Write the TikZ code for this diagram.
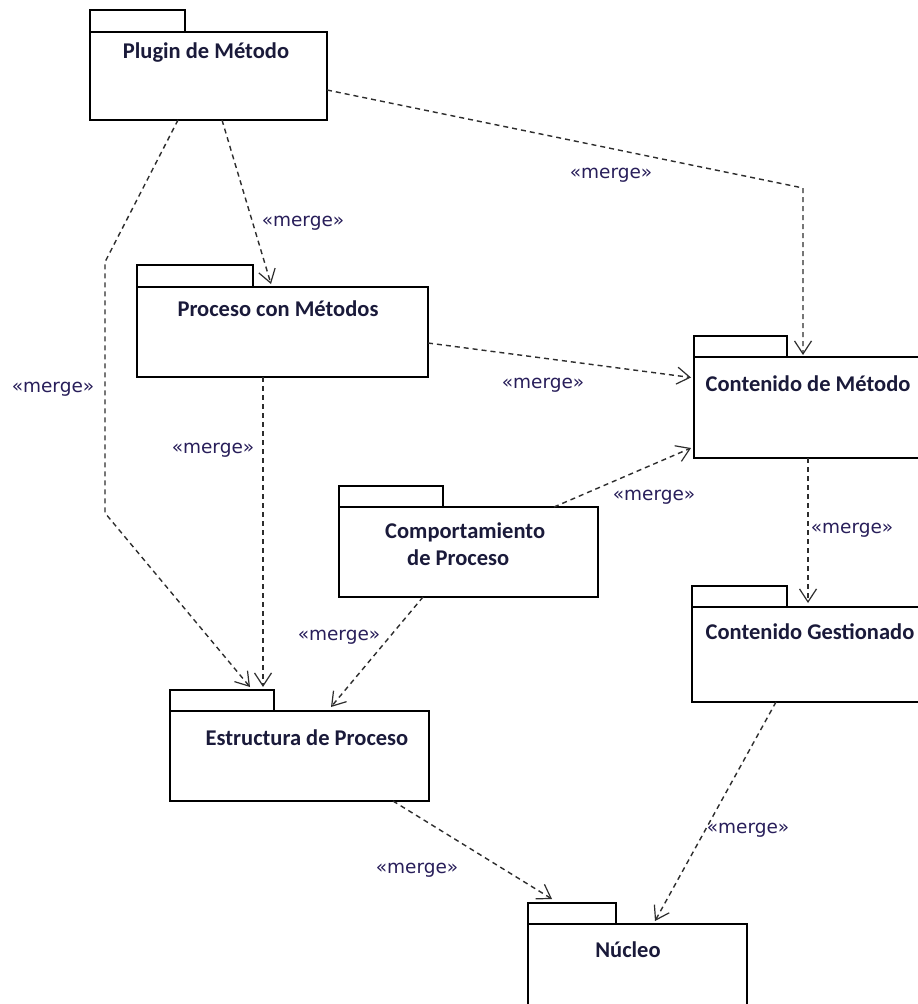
\documentclass[tikz,border=0pt]{standalone}
\usepackage{fontspec}
\usetikzlibrary{arrows.meta}
\newfontfamily\pkgfont{Carlito}
\newfontfamily\stereofont{DejaVu Sans}
\definecolor{pkgtext}{RGB}{26,26,58}
\definecolor{stereotext}{RGB}{40,30,90}
\definecolor{dep}{RGB}{45,45,45}
\tikzset{
  pkgbody/.style={draw=black, line width=1.4pt, fill=white, inner sep=0pt, outer sep=0pt, anchor=north west},
  pkgtab/.style={draw=black, line width=1.4pt, fill=white, inner sep=0pt, outer sep=0pt, anchor=north west, minimum height=22pt},
  pkgname/.style={font=\pkgfont\bfseries\fontsize{22.5}{26}\selectfont, text=pkgtext, inner sep=0pt, align=left},
  merge/.style={draw=dep, line width=1.4pt, dash pattern=on 5pt off 4pt, -{Straight Barb[length=13pt,width=17pt,line width=1.2pt]}},
  mergelabel/.style={font=\stereofont\fontsize{18.5}{20}\selectfont, text=stereotext, inner sep=0pt}
}
\begin{document}
\begin{tikzpicture}[x=1pt, y=-1pt]
\useasboundingbox (0,0) rectangle (918,1004);
\fill[white] (0,0) rectangle (918,1004);
\clip (0,0) rectangle (918,1004);

% packages: tab + body + name
\node[pkgtab, minimum width=95pt] (plugintab) at (90,10) {};
\node[pkgbody, minimum width=237pt, minimum height=88pt] (plugin) at (90,32) {};
\node[pkgname] (pluginname) at (206,53) {Plugin de Método};

\node[pkgtab, minimum width=116pt] (procesotab) at (137,265) {};
\node[pkgbody, minimum width=291pt, minimum height=90pt] (proceso) at (137,287) {};
\node[pkgname] (procesoname) at (278,309) {Proceso con Métodos};

\node[pkgtab, minimum width=93pt, minimum height=21pt] (contenidotab) at (694,336) {};
\node[pkgbody, minimum width=240pt, minimum height=101pt] (contenido) at (694,357) {};
\node[pkgname] (contenidoname) at (808,384) {Contenido de Método};

\node[pkgtab, minimum width=104pt, minimum height=21pt] (comporttab) at (339,486) {};
\node[pkgbody, minimum width=259pt, minimum height=90pt] (comport) at (339,507) {};
\node[pkgname, anchor=north west] (comportname) at (385,523)
  {Comportamiento\\[1pt]\hspace*{22pt}de Proceso};

\node[pkgtab, minimum width=95pt, minimum height=21pt] (gestionadotab) at (692,586) {};
\node[pkgbody, minimum width=240pt, minimum height=95pt] (gestionado) at (692,607) {};
\node[pkgname] (gestionadoname) at (810,632) {Contenido Gestionado};

\node[pkgtab, minimum width=104pt, minimum height=21pt] (estructuratab) at (170,690) {};
\node[pkgbody, minimum width=259pt, minimum height=90pt] (estructura) at (170,711) {};
\node[pkgname] (estructuraname) at (307,738) {Estructura de Proceso};

\node[pkgtab, minimum width=88pt, minimum height=21pt] (nucleotab) at (528,903) {};
\node[pkgbody, minimum width=219pt, minimum height=110pt] (nucleo) at (528,924) {};
\node[pkgname] (nucleoname) at (628,950) {Núcleo};

% merge dependencies
\draw[merge] ([xshift=132pt]plugin.south west) -- ([xshift=134pt,yshift=3pt]proceso.north west);
\node[mergelabel] (m1) at (303,223) {«merge»};

\coordinate (bendA) at (803,188);
\draw[merge] ([yshift=-14pt]plugin.east) -- (bendA) -- ([xshift=109pt,yshift=2pt]contenido.north west);
\node[mergelabel] (m2) at (611,175) {«merge»};

\coordinate (bendB) at (105,262);
\coordinate (bendC) at (105,513);
\draw[merge] ([xshift=88pt]plugin.south west) -- (bendB) -- (bendC) -- ([xshift=80pt,yshift=3pt]estructuratab.north west);
\node[mergelabel] (m3) at (53,389) {«merge»};

\draw[merge] ([yshift=-11pt]proceso.east) -- ([xshift=-3pt,yshift=30pt]contenido.west);
\node[mergelabel] (m4) at (543,385) {«merge»};

\draw[merge] ([xshift=126pt]proceso.south west) -- ([xshift=93pt,yshift=3pt]estructuratab.north west);
\node[mergelabel] (m5) at (213,450) {«merge»};

\draw[merge] ([xshift=215pt]comport.north west) -- ([xshift=-3pt,yshift=10pt]contenido.south west);
\node[mergelabel] (m6) at (654,497) {«merge»};

\draw[merge] ([xshift=84pt]comport.south west) -- ([xshift=161pt,yshift=4pt]estructura.north west);
\node[mergelabel] (m7) at (339,637) {«merge»};

\draw[merge] ([xshift=114pt]contenido.south west) -- ([xshift=116pt,yshift=4pt]gestionado.north west);
\node[mergelabel] (m8) at (852,530) {«merge»};

\draw[merge] ([xshift=223pt]estructura.south west) -- ([xshift=24pt,yshift=4pt]nucleotab.north west);
\node[mergelabel] (m9) at (417,870) {«merge»};

\draw[merge] ([xshift=84pt]gestionado.south west) -- ([xshift=127pt,yshift=3pt]nucleo.north west);
\node[mergelabel] (m10) at (748,830) {«merge»};
\end{tikzpicture}
\end{document}
